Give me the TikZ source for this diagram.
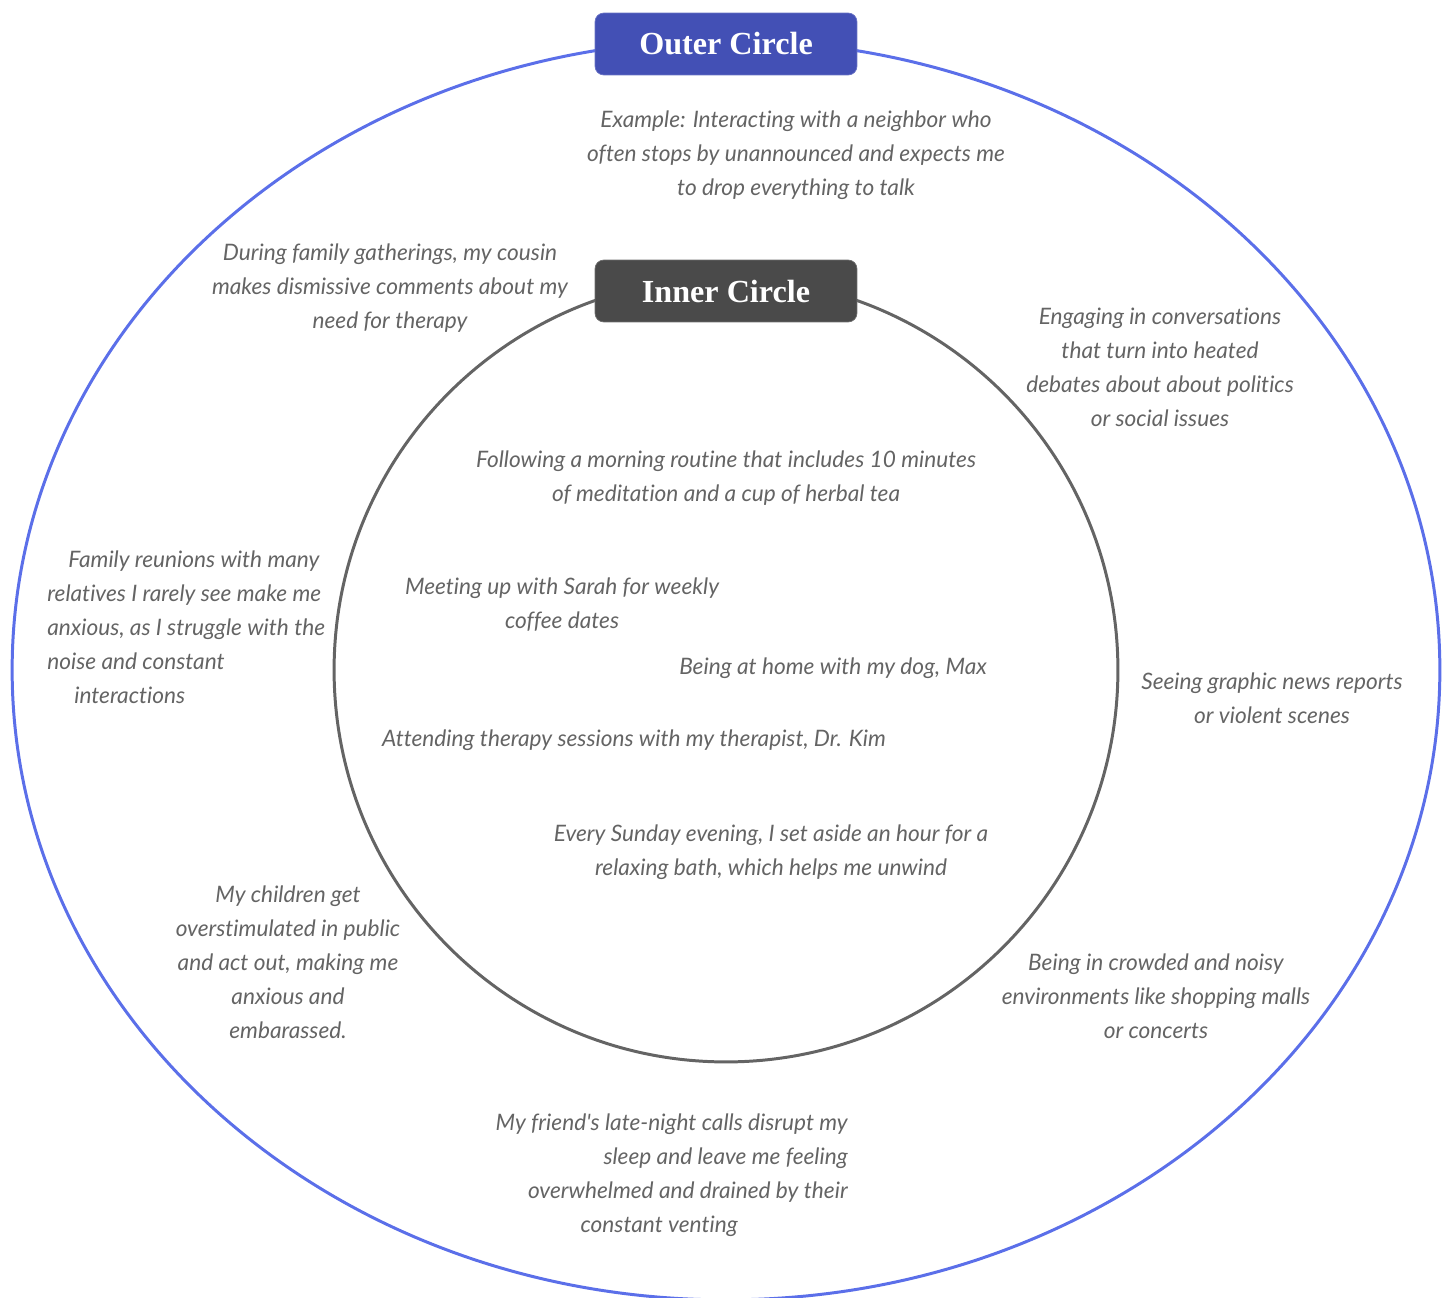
\documentclass[tikz,border=0pt]{standalone}
\usepackage{fontspec}
\setmainfont[Ligatures={NoCommon}]{Lato}
\newfontfamily\titlefont{Liberation Serif}
\usetikzlibrary{positioning}
\usepackage{xcolor}
\definecolor{azul}{RGB}{91, 111, 233}
\definecolor{azulcaixa}{RGB}{67, 80, 181}
\definecolor{cinza}{RGB}{100, 100, 100}
\definecolor{cinzacaixa}{RGB}{74, 74, 74}
\tikzset{
  titulo/.style={
    rounded corners=5pt, minimum width=5.24cm, minimum height=1.24cm,
    text=white, font=\titlefont\bfseries\fontsize{18.3}{22}\selectfont, inner sep=0pt
  },
  tituloE/.style={titulo, fill=azulcaixa, draw=azulcaixa!80!white},
  tituloI/.style={titulo, fill=cinzacaixa, draw=cinzacaixa!80!white},
  nota/.style={text=cinza, font=\itshape\fontsize{12.9}{19.3}\selectfont, align=center,
    inner sep=0pt, yshift=-0.05cm},
}

\begin{document}
\begin{tikzpicture}[
    x=0.02cm,
    y=-0.02cm,
    anel/.style={
        line width=1.7pt
    }
]
\useasboundingbox (0,0) rectangle (1447,1298);

% circles
\draw[anel, azul] (726,670) ellipse [x radius=14.28cm, y radius=12.6cm];
\draw[anel, cinza] (726,670) circle [radius=7.84cm];

\node[tituloE] (externo) at (726,44) {Outer Circle};
\node[tituloI] (interno) at (726,291) {Inner Circle};

% outer circle
\node[nota] (vizinho) at (796,153)
{Example: Interacting with a neighbor who\\
often stops by unannounced and expects me\\
to drop everything to talk};

\node[nota] (primo) at (390,286)
{During family gatherings, my cousin\\
makes dismissive comments about my\\
need for therapy};

\node[nota] (debates) at (1160,365)
{Engaging in conversations\\
that turn into heated\\
debates about about politics\\
or social issues};

\node[nota, align=left, anchor=west] (reunioes) at (47,625)
{\hspace*{0.42cm}Family reunions with many\\
relatives I rarely see make me\\
anxious, as I struggle with the\\
noise and constant\\
\hspace*{0.54cm}interactions};

\node[nota] (noticias) at (1272,696)
{Seeing graphic news reports\\
or violent scenes};

\node[nota] (filhos) at (288,960)
{My children get\\
overstimulated in public\\
and act out, making me\\
anxious and\\
embarassed.};

\node[nota] (multidao) at (1156,994)
{Being in crowded and noisy\\
environments like shopping malls\\
or concerts};

\node[nota, align=right, anchor=east] (amigo) at (848,1173)
{My friend\textquotesingle s late-night calls disrupt my\\
sleep and leave me feeling\hspace*{0.1cm}\\
overwhelmed and drained by their\hspace*{0.1cm}\\
constant venting\hspace*{2.2cm}};

% inner circle
\node[nota] (rotina) at (726,476)
{Following a morning routine that includes 10 minutes\\
of meditation and a cup of herbal tea};

\node[nota] (sarah) at (562,602)
{Meeting up with Sarah for weekly\\
coffee dates};

\node[nota] (cachorro) at (833,666) {Being at home with my dog, Max};

\node[nota] (terapia) at (634,738) {Attending therapy sessions with my therapist, Dr. Kim};

\node[nota] (banho) at (771,850)
{Every Sunday evening, I set aside an hour for a\\
relaxing bath, which helps me unwind};

\end{tikzpicture}
\end{document}
